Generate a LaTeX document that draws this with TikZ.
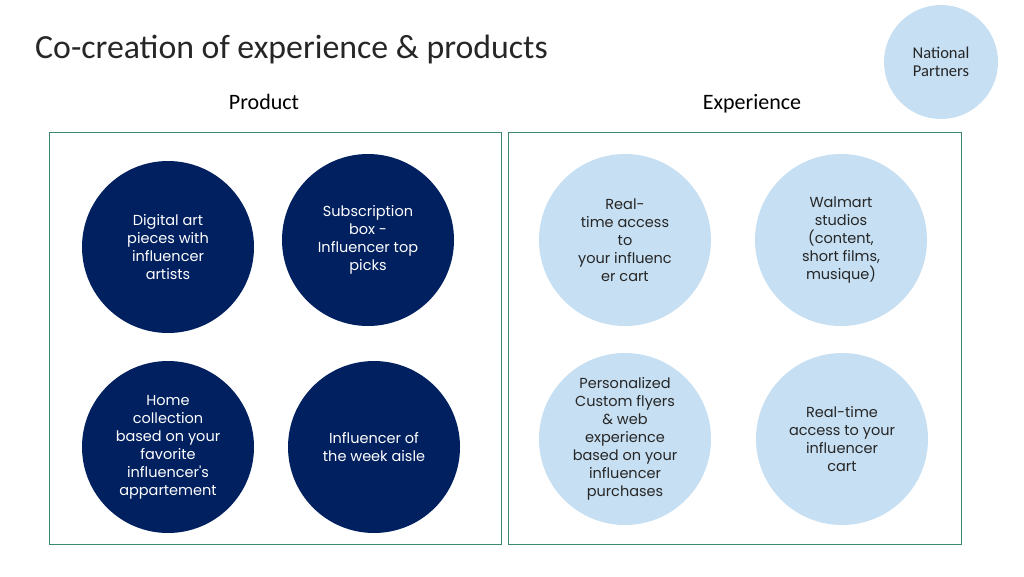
\documentclass[tikz,border=0pt]{standalone}
\usepackage{fontspec}
\setmainfont{Carlito}
\newfontfamily\circfont{Poppins}
\definecolor{navy}{HTML}{002060}
\definecolor{lightblue}{HTML}{C6DFF2}
\definecolor{boxgreen}{HTML}{3A8A6E}
\definecolor{txtgray}{HTML}{262626}
\tikzset{
  dark/.style={circle, fill=navy, minimum size=172pt, inner sep=0pt, text=white, align=center, font=\circfont\fontsize{14.5}{18}\selectfont},
  light/.style={circle, fill=lightblue, minimum size=172pt, inner sep=0pt, text=txtgray, align=center, font=\circfont\fontsize{14.5}{18}\selectfont},
  panel/.style={draw=boxgreen, line width=1pt},
  heading/.style={font=\fontsize{22}{26}\selectfont, text=black, anchor=base}
}
\begin{document}
\begin{tikzpicture}[x=1pt,y=-1pt]
\useasboundingbox (0,0) rectangle (1024,576);
\node[anchor=base west, font=\fontsize{33.8}{38}\selectfont, text=txtgray, inner sep=0pt] (title) at (35,58) {Co-creation of experience \& products};
\node[circle, fill=lightblue, minimum size=114pt, inner sep=0pt, align=center, text=txtgray, font=\fontsize{16.5}{18}\selectfont] (np) at (941,62) {National\\Partners};
\node[heading] (hp) at (264,109) {Product};
\node[heading] (he) at (752,109) {Experience};
\node[panel, minimum width=452pt, minimum height=412pt, anchor=north west, inner sep=0pt] (lbox) at (49,132) {};
\node[panel, minimum width=453pt, minimum height=412pt, anchor=north west, inner sep=0pt] (rbox) at (508,132) {};
\node[dark] (d1) at (168,247) {Digital art\\pieces with\\influencer\\artists};
\node[dark] (d2) at (368,240) {Subscription\\box -\\Influencer top\\picks};
\node[dark] (d3) at (168,447) {Home\\collection\\based on your\\favorite\\influencer's\\appartement};
\node[dark] (d4) at (374,447) {Influencer of\\the week aisle};
\node[light] (l1) at (625,240) {Real-\\time access\\to\\your influenc\\er cart};
\node[light] (l2) at (841,240) {Walmart\\studios\\(content,\\short films,\\musique)};
\node[light] (l3) at (625,439) {Personalized\\Custom flyers\\\& web\\experience\\based on your\\influencer\\purchases};
\node[light] (l4) at (842,439) {Real-time\\access to your\\influencer\\cart};
\end{tikzpicture}
\end{document}
